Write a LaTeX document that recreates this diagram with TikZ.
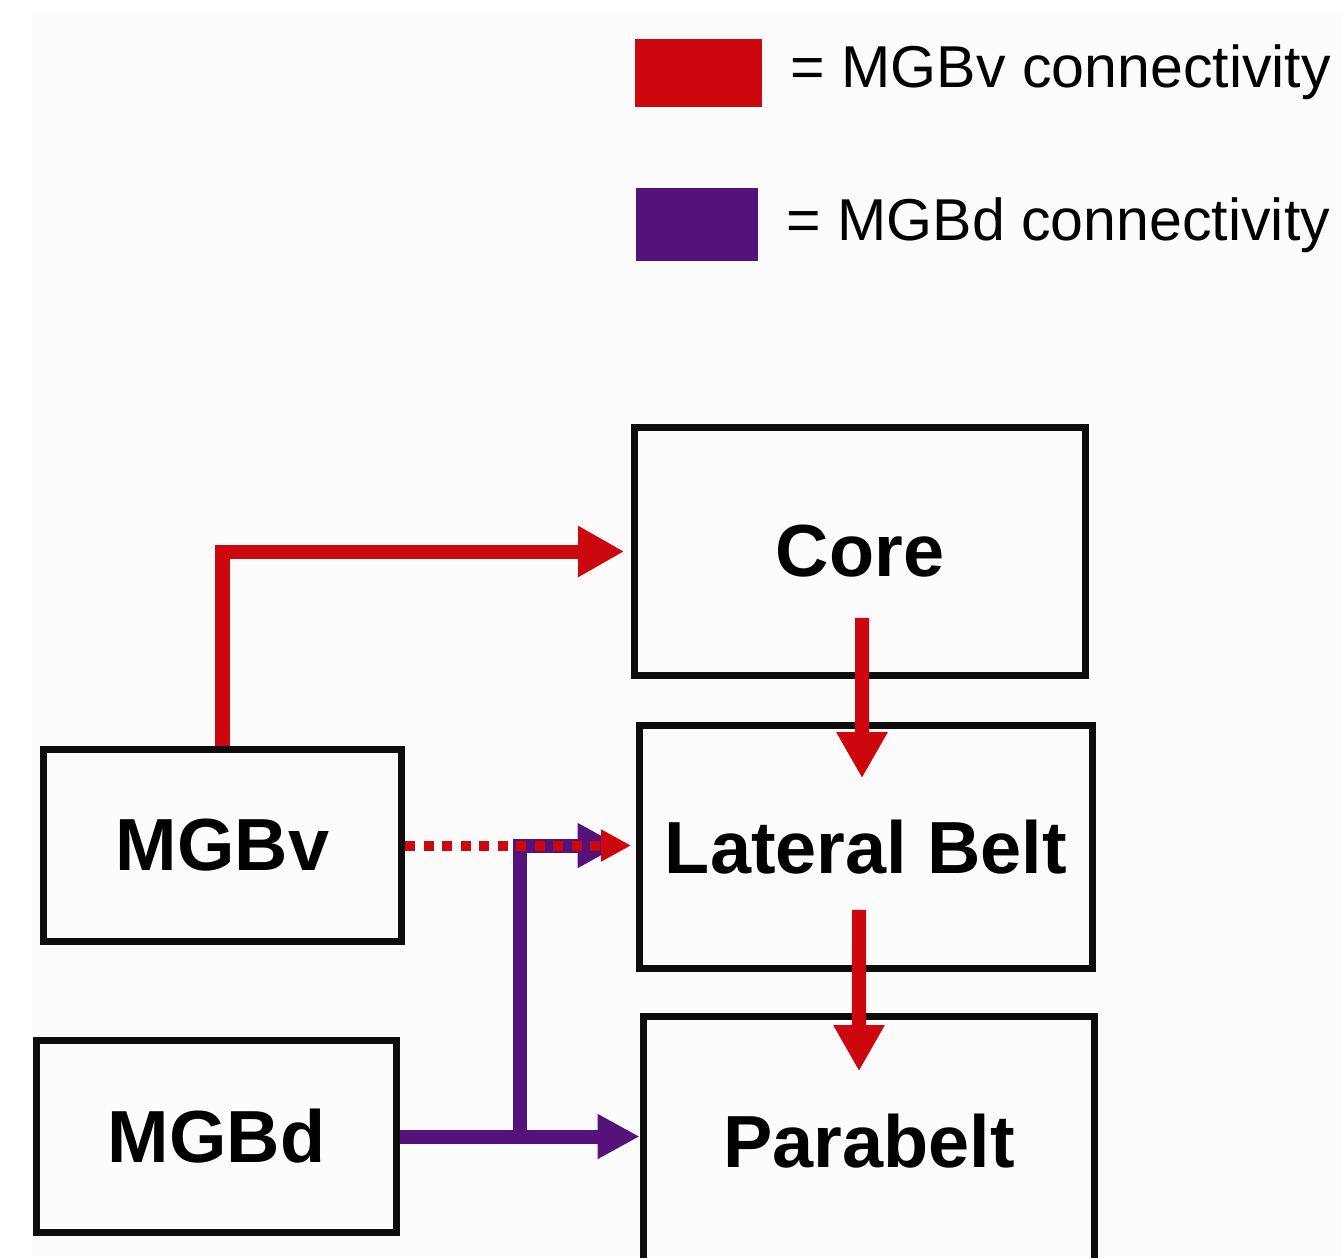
\documentclass[tikz,border=0pt]{standalone}
\usepackage{fontspec}
\setmainfont{Liberation Sans}
\usetikzlibrary{arrows.meta}
\definecolor{mgbvred}{RGB}{204,8,14}
\definecolor{mgbdpurple}{RGB}{85,18,122}
\definecolor{boxblack}{RGB}{13,13,13}

\begin{document}
\begin{tikzpicture}[x=0.01cm,y=-0.01cm,
    area/.style={draw=boxblack,line width=0.075cm,align=center,inner sep=0pt,font=\fontsize{21}{25}\selectfont\bfseries},
    key/.style={inner sep=0pt,minimum width=1.27cm,minimum height=0.68cm},
    keytext/.style={anchor=base west,inner sep=0pt,font=\fontsize{16.8}{20}\selectfont},
    vline/.style={mgbvred,line width=0.14cm,-{Triangle[length=0.46cm,width=0.48cm]}},
    dline/.style={mgbdpurple,line width=0.14cm,-{Triangle[length=0.42cm,width=0.42cm]}}]
      \useasboundingbox (0,0) rectangle (1342,1257);
      \fill[black!1] (32,12) rectangle (1342,1257);

      % legend
      \node[key,fill=mgbvred] (vkey) at (698.5,73) {};
      \node[keytext] (vtext) at (790,87) {= MGBv connectivity};
      \node[key,fill=mgbdpurple,minimum width=1.22cm,minimum height=0.73cm] (dkey) at (697,224.5) {};
      \node[keytext] (dtext) at (786,240) {= MGBd connectivity};

      % areas
      \node[area,minimum width=4.51cm,minimum height=2.48cm] (core) at (860,551.5) {Core};
      \node[area,minimum width=4.53cm,minimum height=2.43cm] (latbelt) at (866,847) {Lateral Belt};
      \node[area,minimum width=4.51cm,minimum height=2.5cm] (parabelt) at (869,1141.5) {Parabelt};
      \node[area,minimum width=3.58cm,minimum height=1.92cm] (mgbv) at (222.5,845.5) {MGBv};
      \node[area,minimum width=3.6cm,minimum height=1.92cm] (mgbd) at (216.5,1136.5) {MGBd};

      % MGBd connectivity
      \coordinate (split) at ([xshift=1.195cm]mgbd.east);
      \draw[dline] (mgbd.east) -- (mgbd.east -| parabelt.west);
      \draw[dline,shorten >=0.16cm] (split) |- (mgbv.east -| latbelt.west);

      % MGBv connectivity
      \draw[vline,line width=0.1cm,dash pattern=on 0.1cm off 0.085cm,
        -{Triangle[length=0.3cm,width=0.3cm]},shorten >=0.045cm] (mgbv.east) -- (mgbv.east -| latbelt.west);
      \draw[vline,shorten >=0.065cm] (mgbv.north) |- (core.west);
      \draw[vline] ([xshift=0.02cm,yshift=0.615cm]core.south) -- ([xshift=-0.04cm,yshift=-0.565cm]latbelt.north);
      \draw[vline] ([xshift=-0.07cm,yshift=0.625cm]latbelt.south) -- ([xshift=-0.1cm,yshift=-0.585cm]parabelt.north);
    \end{tikzpicture}
\end{document}
